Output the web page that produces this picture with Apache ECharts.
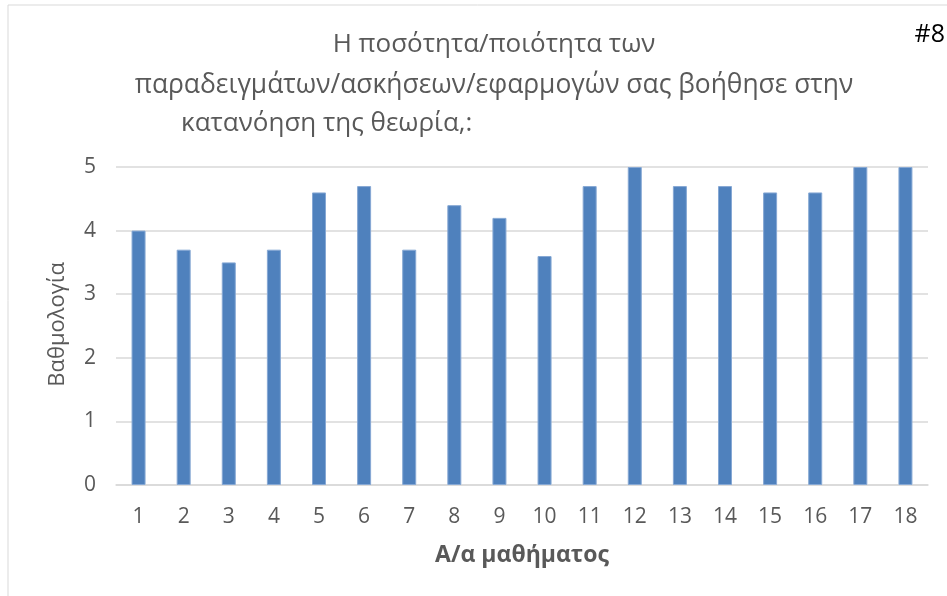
<!DOCTYPE html>
<html>
<head>
<meta charset="utf-8">
<script src="https://cdn.jsdelivr.net/npm/echarts@6/dist/echarts.min.js"></script>
<style>
  html, body { margin: 0; padding: 0; background: #fff; }
  #chart { width: 947px; height: 596px; }
</style>
</head>
<body>
<div id="chart"></div>
<script>
// Lesson numbers and their average rating
const lessons = ['1','2','3','4','5','6','7','8','9','10','11','12','13','14','15','16','17','18'];
const ratings = [4.0, 3.7, 3.5, 3.7, 4.6, 4.7, 3.7, 4.4, 4.2, 3.6, 4.7, 5.0, 4.7, 4.7, 4.6, 4.6, 5.0, 5.0];
const yTicks = [0, 1, 2, 3, 4, 5];

const titleLines = [
  'Η ποσότητα/ποιότητα των',
  'παραδειγμάτων/ασκήσεων/εφαρμογών σας βοήθησε στην',
  'κατανόηση της θεωρία,:'
];
const xAxisTitle = 'Α/α μαθήματος';
const yAxisTitle = 'Βαθμολογία';
const badge = '#8';

const FONT = '"Open Sans", "Noto Sans", sans-serif';
const GREY = '#595959';

const chart = echarts.init(document.getElementById('chart'), null, { renderer: 'canvas' });

chart.setOption({
  animation: false,
  title: [
    { text: titleLines[0], left: 489, top: 27, textAlign: 'center',
      textStyle: { fontFamily: FONT, fontSize: 26, fontWeight: 'normal', color: GREY } },
    { text: titleLines[1], left: 489, top: 67, textAlign: 'center',
      textStyle: { fontFamily: FONT, fontSize: 26.4, fontWeight: 'normal', color: GREY } },
    { text: titleLines[2], left: 176, top: 106,
      textStyle: { fontFamily: FONT, fontSize: 26, fontWeight: 'normal', color: GREY } },
    { text: badge, right: -3, top: 17,
      textStyle: { fontFamily: FONT, fontSize: 25, fontWeight: 'normal', color: '#000' } }
  ],
  graphic: [
    // chart-area frame edges
    { type: 'line', shape: { x1: 8, y1: 5, x2: 947, y2: 5 },
      style: { stroke: '#d9d9d9', lineWidth: 1 } },
    { type: 'line', shape: { x1: 8, y1: 5, x2: 8, y2: 596 },
      style: { stroke: '#d9d9d9', lineWidth: 1 } },
    // vertical axis title
    { type: 'text', left: 47, top: 262, rotation: Math.PI / 2,
      style: { text: yAxisTitle, fontFamily: FONT, fontSize: 22, fill: GREY } }
  ],
  grid: { left: 116, right: 19, top: 167, bottom: 111, containLabel: false },
  xAxis: {
    type: 'category',
    data: lessons,
    name: xAxisTitle,
    nameLocation: 'middle',
    nameGap: 59,
    nameTextStyle: { fontFamily: FONT, fontSize: 23, fontWeight: 'bold', color: GREY },
    axisLine: { show: true, lineStyle: { color: '#d9d9d9', width: 1.5 } },
    axisTick: { show: false },
    axisLabel: { fontFamily: FONT, fontSize: 21, color: GREY, margin: 22 }
  },
  yAxis: {
    type: 'value',
    min: yTicks[0],
    max: yTicks[yTicks.length - 1],
    interval: 1,
    axisLine: { show: false },
    axisTick: { show: false },
    axisLabel: { fontFamily: FONT, fontSize: 21, color: GREY, margin: 20 },
    splitLine: { lineStyle: { color: '#d9d9d9', width: 1.5 } }
  },
  series: [{
    type: 'bar',
    data: ratings,
    barWidth: 14,
    itemStyle: { color: '#4f81bd', borderColor: '#86a8d4', borderWidth: 1 }
  }]
});
</script>
</body>
</html>
